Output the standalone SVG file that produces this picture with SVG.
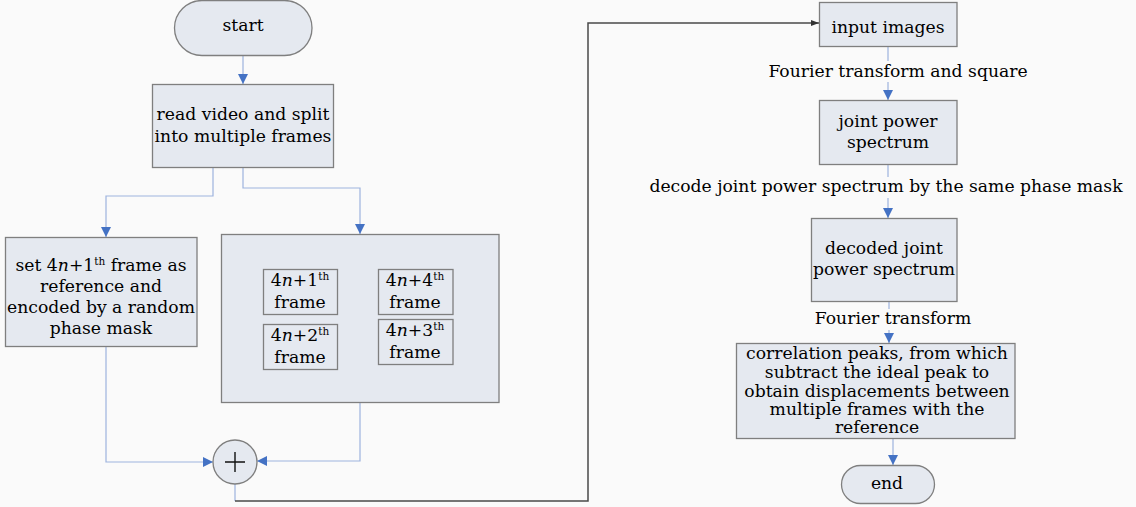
<svg xmlns="http://www.w3.org/2000/svg" width="1136" height="507" viewBox="0 0 1136 507">
<style>
.bg{fill:#fafafa}
.box{fill:#e5e9f0;stroke:#7f7f7f;stroke-width:1.3}
.t{font-family:"DejaVu Serif","Liberation Serif",serif;font-size:17.2px;fill:#000;text-anchor:middle}
.c{fill:none;stroke:#9db3de;stroke-width:1.2}
.d{fill:none;stroke:#4a4a4a;stroke-width:1.5}
.sup{font-size:10.5px}
.it{font-style:italic}
</style>
<defs>
<marker id="ab" viewBox="0 0 10 10" refX="10" refY="5" markerWidth="10" markerHeight="10" markerUnits="userSpaceOnUse" orient="auto">
<path d="M0,0 L10,5 L0,10 z" fill="#4472c4"/>
</marker>
<marker id="ad" viewBox="0 0 10 10" refX="10" refY="5" markerWidth="8" markerHeight="6" markerUnits="userSpaceOnUse" orient="auto" preserveAspectRatio="none">
<path d="M0,0 L10,5 L0,10 z" fill="#333"/>
</marker>
</defs>
<rect class="bg" x="0" y="0" width="1136" height="507"/>

<g id="connectors">
<path class="c" d="M243,55 V84" marker-end="url(#ab)"/>
<path class="c" d="M213,167 V196 H106 V237" marker-end="url(#ab)"/>
<path class="c" d="M243,167 V188 H360 V234" marker-end="url(#ab)"/>
<path class="c" d="M106,346 V462 H213" marker-end="url(#ab)"/>
<path class="c" d="M360,402 V461 H257" marker-end="url(#ab)"/>
<path class="c" d="M235,484 V501"/>
<path class="d" d="M235,501 H588 V23 H819" marker-end="url(#ad)"/>
<path class="c" d="M888,46 V61"/>
<path class="c" d="M888,82 V100" marker-end="url(#ab)"/>
<path class="c" d="M888,164 V177"/>
<path class="c" d="M888,198 V218" marker-end="url(#ab)"/>
<path class="c" d="M889,301 V309"/>
<path class="c" d="M889,330 V343" marker-end="url(#ab)"/>
<path class="c" d="M893,438 V465" marker-end="url(#ab)"/>
</g>

<g id="start">
<rect class="box" x="174.5" y="0.5" width="137.5" height="55" rx="27.5"/>
<text class="t" x="243" y="31">start</text>
</g>

<g id="read">
<rect class="box" x="152.5" y="84.5" width="181" height="83"/>
<text class="t" x="243" y="120">read video and split</text>
<text class="t" x="243" y="142">into multiple frames</text>
</g>

<g id="set">
<rect class="box" x="5.5" y="237.5" width="191.5" height="109"/>
<text class="t" x="101" y="271">set 4<tspan class="it">n</tspan>+1<tspan class="sup" dy="-6">th</tspan><tspan dy="6"> frame as</tspan></text>
<text class="t" x="101" y="292">reference and</text>
<text class="t" x="101" y="313">encoded by a random</text>
<text class="t" x="101" y="334">phase mask</text>
</g>

<g id="frames">
<rect class="box" x="221.5" y="234.5" width="277.5" height="168"/>
<g id="f1">
<rect class="box" x="263.5" y="269.5" width="74" height="45"/>
<text class="t" x="300" y="286">4<tspan class="it">n</tspan>+1<tspan class="sup" dy="-6">th</tspan></text>
<text class="t" x="300" y="308">frame</text>
</g>
<g id="f2">
<rect class="box" x="263.5" y="324.5" width="74" height="45"/>
<text class="t" x="300" y="341">4<tspan class="it">n</tspan>+2<tspan class="sup" dy="-6">th</tspan></text>
<text class="t" x="300" y="363">frame</text>
</g>
<g id="f4">
<rect class="box" x="378.5" y="269.5" width="74.5" height="45"/>
<text class="t" x="415" y="286">4<tspan class="it">n</tspan>+4<tspan class="sup" dy="-6">th</tspan></text>
<text class="t" x="415" y="308">frame</text>
</g>
<g id="f3">
<rect class="box" x="378.5" y="319.5" width="74.5" height="45"/>
<text class="t" x="415" y="336">4<tspan class="it">n</tspan>+3<tspan class="sup" dy="-6">th</tspan></text>
<text class="t" x="415" y="358">frame</text>
</g>
</g>

<g id="sum">
<circle class="box" cx="235" cy="462" r="22"/>
<path d="M225,462 H245 M235,452 V472" stroke="#111" stroke-width="1.4" fill="none"/>
</g>

<g id="input">
<rect class="box" x="819.5" y="2.5" width="137.5" height="44"/>
<text class="t" x="888" y="33">input images</text>
</g>
<g id="lbl1"><text class="t" x="898" y="77">Fourier transform and square</text></g>

<g id="jps">
<rect class="box" x="819.5" y="100.5" width="137.5" height="64"/>
<text class="t" x="888" y="127">joint power</text>
<text class="t" x="888" y="148">spectrum</text>
</g>
<g id="lbl2"><text class="t" x="886" y="192">decode joint power spectrum by the same phase mask</text></g>

<g id="djps">
<rect class="box" x="811.5" y="218.5" width="145.5" height="83"/>
<text class="t" x="884" y="254">decoded joint</text>
<text class="t" x="884" y="275">power spectrum</text>
</g>
<g id="lbl3"><text class="t" x="893" y="324">Fourier transform</text></g>

<g id="corr">
<rect class="box" x="736.5" y="343.5" width="278.5" height="95"/>
<text class="t" x="877" y="359">correlation peaks, from which</text>
<text class="t" x="877" y="378">subtract the ideal peak to</text>
<text class="t" x="877" y="397">obtain displacements between</text>
<text class="t" x="877" y="415">multiple frames with the</text>
<text class="t" x="877" y="433">reference</text>
</g>

<g id="end">
<rect class="box" x="841.5" y="465.5" width="93" height="38" rx="19"/>
<text class="t" x="887" y="489">end</text>
</g>
</svg>
